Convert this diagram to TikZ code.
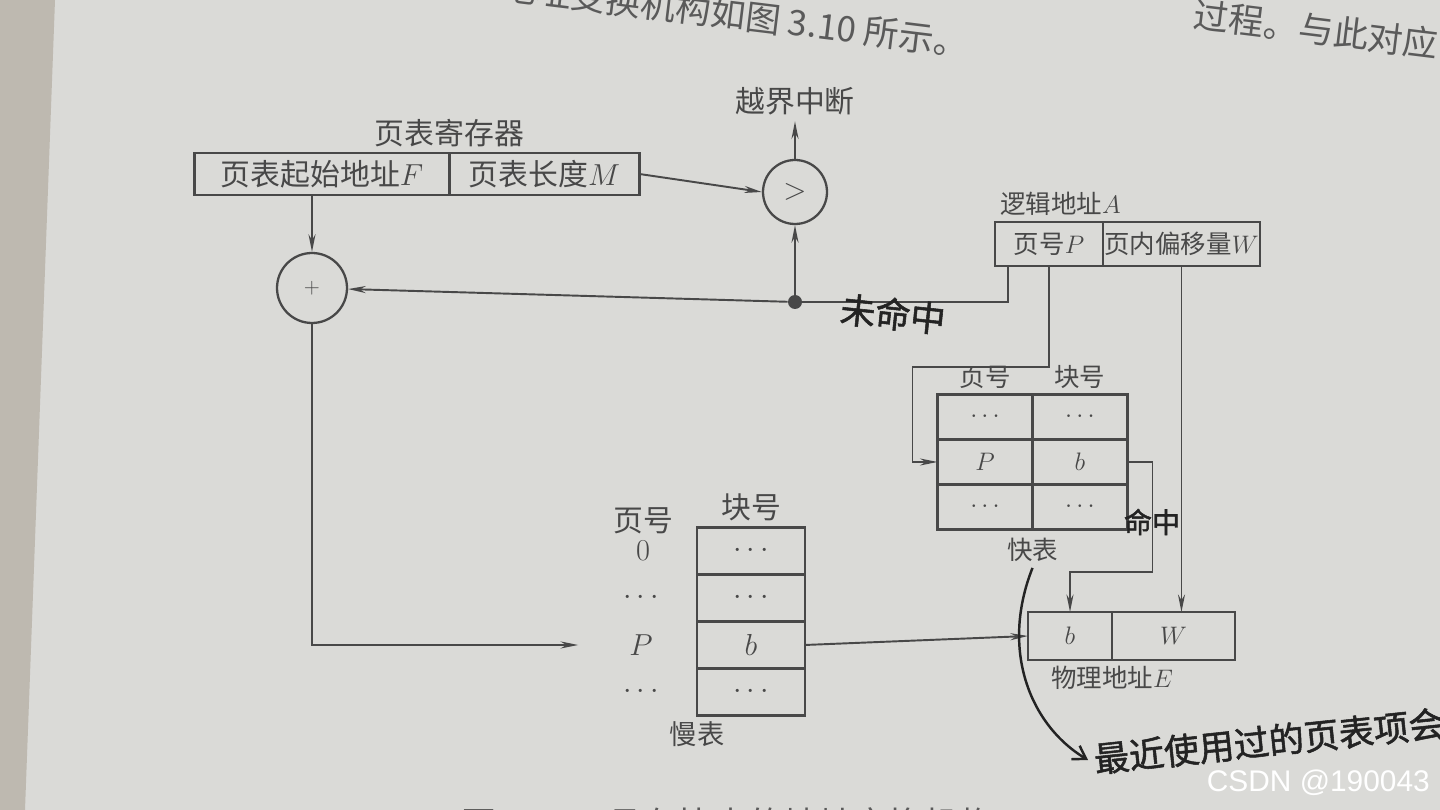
\documentclass[tikz,border=0pt]{standalone}
\usepackage{fontspec}
\newfontfamily\cjk{Noto Sans CJK SC}
\newfontfamily\handfont{Noto Sans CJK SC}[FakeBold=1.5]
\newfontfamily\markfont{Liberation Sans}
\usetikzlibrary{positioning, arrows.meta, calc}

\definecolor{paper}{RGB}{218,218,215}
\definecolor{binding}{RGB}{190,185,176}
\definecolor{ink}{RGB}{72,72,72}
\definecolor{pen}{RGB}{35,35,35}

\tikzset{
  cell/.style={draw=ink, line width=1.5pt, inner sep=0pt, outer sep=0pt, text=ink},
  op/.style={circle, draw=ink, line width=1.3pt, inner sep=0pt, text=ink},
  big/.style={font=\cjk\fontsize{17}{19}\selectfont, text=ink},
  small/.style={font=\cjk\fontsize{14.5}{16}\selectfont, text=ink},
  ftcell/.style={cell, small, minimum width=1.9cm, minimum height=0.9cm},
  stcell/.style={cell, big, minimum width=2.16cm, minimum height=0.94cm},
  link/.style={draw=ink, line width=1.1pt},
  hand/.style={font=\handfont\fontsize{20}{22}\selectfont, text=pen},
  pagetext/.style={font=\cjk\fontsize{20}{22}\selectfont, text=ink!90},
}

\begin{document}
\begin{tikzpicture}[x=0.02cm, y=-0.02cm, >={Stealth[length=10pt,width=4pt]}]
    % Page
    \fill[paper] (0,0) rectangle (1440,810);
    \fill[binding] (0,0) -- (55,0) -- (25,810) -- (0,810) -- cycle;
    \useasboundingbox (0,0) rectangle (1440,810);
    \clip (0,0) rectangle (1440,810);

    % Page table register
    \node (regF) [cell, big, minimum width=5.1cm, minimum height=0.84cm] at (322,174) {页表起始地址$F$};
    \node (regM) [cell, big, minimum width=3.8cm, minimum height=0.84cm, right=0pt of regF] {页表长度$M$};
    \node (reglbl) [big, above=0cm of regF.north east] {页表寄存器};

    % Comparator and adder
    \node (cmp) [op, minimum size=1.28cm, font=\fontsize{17}{19}\selectfont] at (795,192) {$>$};
    \node (oob) [big, above=0.75cm of cmp] {越界中断};
    \node (add) [op, minimum size=1.4cm, font=\fontsize{12}{14}\selectfont] at (312,288) {$+$};
    \node (dot) [circle, fill=ink, minimum size=0.28cm, inner sep=0pt] at (795,302) {};

    % Logical address
    \node (laP) [cell, small, minimum width=2.16cm, minimum height=0.88cm] at (1049,244) {页号$P$};
    \node (laW) [cell, small, minimum width=3.14cm, minimum height=0.88cm, right=0pt of laP] {页内偏移量$W$};
    \node (lalbl) [small, above=0cm of laP.north east, xshift=-0.85cm] {逻辑地址$A$};

    % Fast table
    \node (ftP1) [ftcell] at (985,417) {$\cdots$};
    \node (ftB1) [ftcell, right=0pt of ftP1] {$\cdots$};
    \node (ftP2) [ftcell, below=0pt of ftP1] {$P$};
    \node (ftB2) [ftcell, right=0pt of ftP2] {$b$};
    \node (ftP3) [ftcell, below=0pt of ftP2] {$\cdots$};
    \node (ftB3) [ftcell, right=0pt of ftP3] {$\cdots$};
    \node (fthp) [small, above=0cm of ftP1] {页号};
    \node (fthb) [small, above=0cm of ftB1] {块号};
    \node (ftlbl) [small, below=0.05cm of ftP3.south east] {快表};

    % Physical address
    \node (paB) [cell, small, minimum width=1.68cm, minimum height=0.96cm] at (1070,636) {$b$};
    \node (paW) [cell, small, minimum width=2.46cm, minimum height=0.96cm, right=0pt of paB] {$W$};
    \node (palbl) [small, below=0cm of paB.south east] {物理地址$E$};

    % Slow table
    \node (st1) [stcell] at (751,551) {$\cdots$};
    \node (st2) [stcell, below=0pt of st1] {$\cdots$};
    \node (st3) [stcell, below=0pt of st2] {$b$};
    \node (st4) [stcell, below=0pt of st3] {$\cdots$};
    \node (pg0) [big] at ($(st1)+(-108,0)$) {$0$};
    \node (pgd1) [big] at ($(st2)+(-110,0)$) {$\cdots$};
    \node (pgP) [big] at ($(st3)+(-110,0)$) {$P$};
    \node (pgd2) [big] at ($(st4)+(-110,0)$) {$\cdots$};
    \node (sthp) [big, above=-0.1cm of pg0] {页号};
    \node (sthb) [big, above=0cm of st1] {块号};
    \node (stlbl) [font=\cjk\fontsize{15.5}{17}\selectfont, text=ink, below=0cm of st4.south west] {慢表};

    % Connections
    \draw[link, ->] (add |- regF.south) -- (add.north);
    \draw[link, ->] (regM.east) -- (cmp.west);
    \draw[link, ->] (cmp) -- (oob);
    \draw[link, ->] (dot) -- (cmp);
    \draw[link, ->] (dot) -- (add);
    \draw[link] ($(laP.south west)+(13,0)$) |- (dot);
    \draw[link, ->] (laP.south) -- ++(0,101) -| ($(ftP2.west)+(-25,0)$) -- (ftP2.west);
    \draw[link, ->] (laW.south) -- (laW.south |- paW.north);
    \draw[link, ->] (ftB2.east) -- ++(25,0) -- ++(0,110) -| (paB.north);
    \draw[link, ->] (add.south) |- ($(pgP.west)+(-45,0)$);
    \draw[link, ->] (st3.east) -- (paB.west);

    % Handwritten notes
    \node (miss) [hand, rotate=-6] at (893,314) {未命中};
    \node (hit) [hand, font=\handfont\fontsize{16}{18}\selectfont] at (1152,522) {命中};
    \node (note) [hand, rotate=6, anchor=west] at (1088,760) {最近使用过的页表项会};
    \draw[pen, line width=1.4pt, -{Straight Barb[length=7pt,width=9pt]}] (ftlbl.south) .. controls (1000,650) and (1030,725) .. (note.west);

    % Page text
    \node (toptext) [pagetext, rotate=-7, anchor=east] at (975,44) {具有快表的地址变换机构如图 3.10 所示。};
    \node (toptext2) [pagetext, rotate=-7, anchor=west] at (1188,14) {过程。与此对应，主存};
    \node (caption) [pagetext, anchor=west] at (455,824) {图 3.10\quad 具有快表的地址变换机构};
    \node (wm) [font=\markfont\fontsize{17}{19}\selectfont, text=white, anchor=east] at (1436,783) {CSDN @190043};
\end{tikzpicture}
\end{document}
